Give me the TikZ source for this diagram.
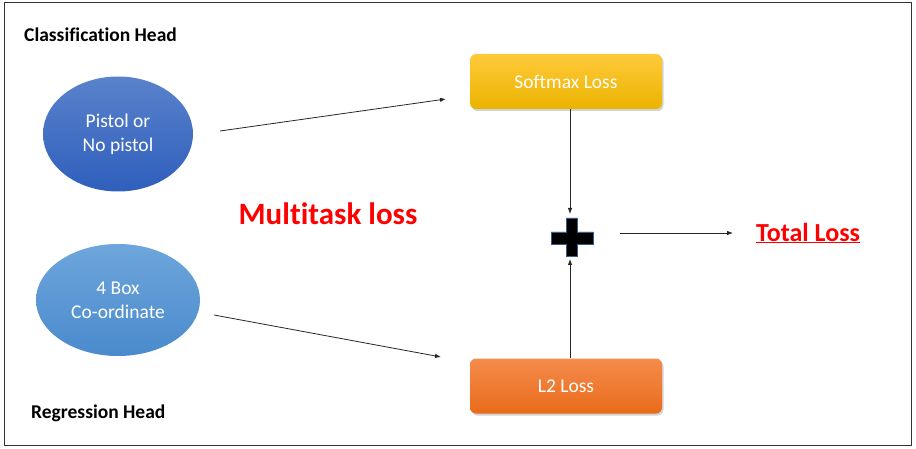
\documentclass[tikz,border=0pt]{standalone}
\usepackage{fontspec}
\setmainfont{Carlito}[Ligatures=NoCommon]
\usetikzlibrary{shapes.geometric,arrows.meta,shadows}
\definecolor{gold1}{HTML}{FFCA3A}
\definecolor{gold2}{HTML}{EBB300}
\definecolor{org1}{HTML}{F48C4C}
\definecolor{org2}{HTML}{E96B1A}
\definecolor{blue1}{HTML}{5A82CC}
\definecolor{blue2}{HTML}{2F5FBC}
\definecolor{lb1}{HTML}{6EA6DC}
\definecolor{lb2}{HTML}{4A8ACC}
\definecolor{plusb}{HTML}{3A5A8C}
\tikzset{
  x=1pt,y=-1pt,
  head/.style={font=\fontsize{19.5}{22}\selectfont\bfseries, anchor=west, inner sep=0},
  ell/.style={ellipse, draw=none, text=white, align=center, font=\fontsize{19.5}{24}\selectfont, inner sep=0},
  lossbox/.style={rounded corners=6pt, draw=none, text=white, minimum width=192pt, minimum height=55pt, font=\fontsize{19.5}{22}\selectfont, drop shadow={shadow xshift=1.5pt, shadow yshift=-2pt, opacity=0.35}},
  arr/.style={-{Latex[length=6pt,width=4.5pt]}, line width=0.8pt, draw=black!85},
}
\begin{document}
\begin{tikzpicture}
\useasboundingbox (0,0) rectangle (916,449);
\draw[line width=1pt, draw=black!80] (4,3) rectangle (911,445);
\node[head] (ch) at (24,35) {Classification Head};
\node[head] (rh) at (31,413) {Regression Head};
\node[ell, minimum width=150pt, minimum height=115pt, top color=blue1, bottom color=blue2] (e1) at (118,134) {Pistol or\\No pistol};
\node[ell, minimum width=164pt, minimum height=112pt, top color=lb1, bottom color=lb2] (e2) at (118,300) {4 Box\\Co-ordinate};
\node[lossbox, top color=gold1, bottom color=gold2] (sm) at (566,81.5) {Softmax Loss};
\node[lossbox, top color=org1, bottom color=org2] (l2) at (566,386) {L2 Loss};
\node[font=\fontsize{31}{36}\selectfont\bfseries, text=red, inner sep=0] (mt) at (328,214) {Multitask loss};
\node[font=\fontsize{26}{30}\selectfont\bfseries, text=red, inner sep=0, anchor=west] (tl) at (756,233) {\underline{Total Loss}};
% plus
\filldraw[fill=black, draw=plusb, line width=0.8pt]
  (566,218) -- (577,218) -- (577,232) -- (593,232) -- (593,244) -- (577,244) -- (577,256) -- (566,256) -- (566,244) -- (551,244) -- (551,232) -- (566,232) -- cycle;
\coordinate (pt) at (570,214);
\coordinate (pb) at (570,259);
\coordinate (pr) at (620,233);
\coordinate (a1s) at (220,131);
\coordinate (a1e) at (446,99);
\coordinate (a2s) at (214,315);
\coordinate (a2e) at (441,357);
\draw[arr] (sm.south -| pt) -- (pt);
\draw[arr] (l2.north -| pb) -- (pb);
\draw[arr] (pr) -- (tl.west -| 733,0);
\draw[arr] (a1s) -- (a1e);
\draw[arr] (a2s) -- (a2e);
\end{tikzpicture}
\end{document}
